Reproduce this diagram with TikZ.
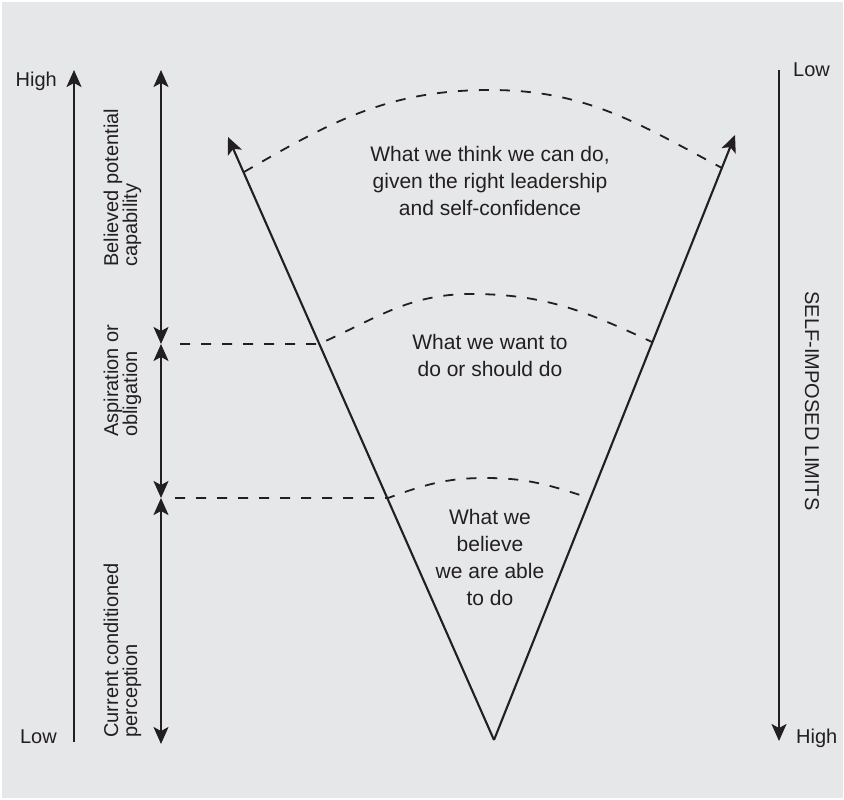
\documentclass[tikz,border=0pt]{standalone}
\usepackage{fontspec}
\setmainfont{Liberation Sans}
\usepackage{tikz}
\usetikzlibrary{arrows.meta,positioning}
\definecolor{panel}{HTML}{E6E7E8}
\definecolor{ink}{HTML}{231F20}
\tikzstyle{lbl} = [font=\fontsize{20}{22}\selectfont, text=ink, inner sep=0pt]
\tikzstyle{sidelbl} = [lbl, font=\fontsize{20}{19}\selectfont, rotate=90, align=left, anchor=base west]
\tikzstyle{vtext} = [font=\fontsize{21}{27}\selectfont, text=ink, align=center,
inner sep=0pt, anchor=base]
\tikzstyle{arrow} = [line width=2.1pt, draw=ink, -{Stealth[length=17pt,width=15pt,inset=4pt]}]
\tikzstyle{twoway} = [line width=2.1pt, draw=ink,
{Stealth[length=17pt,width=15pt,inset=4pt]}-{Stealth[length=17pt,width=15pt,inset=4pt]}]
\tikzstyle{dashy} = [line width=1.8pt, draw=ink, dash pattern=on 10pt off 11pt]

\begin{document}
\begin{tikzpicture}[x=1pt,y=-1pt]
        \fill[panel] (2,2) rectangle (843,798);
        \useasboundingbox (0,0) rectangle (844,800);
        % left scale
        \coordinate (lowL) at (74,742);
        \coordinate (highL) at (74,70);
        \draw [arrow] (lowL) -- (highL);
        \node (highLtxt) [lbl, anchor=base east] at (57,87) {High};
        \node (lowLtxt) [lbl, anchor=base east] at (57,743) {Low};
        % bands
        \coordinate (bandtop) at (161,70);
        \coordinate (split1) at (161,344);
        \coordinate (split2) at (161,498);
        \coordinate (bandbot) at (161,744);
        \draw [twoway] (split1) -- (bandtop);
        \draw [twoway] (split2) -- (split1);
        \draw [twoway] (split2) -- (bandbot);
        \node (believed) [sidelbl] at (137,267) {Believed potential\\capability};
        \node (aspire) [sidelbl] at (137,437) {Aspiration or\\obligation};
        \node (current) [sidelbl] at (137,738) {Current conditioned\\perception};
        %
        \coordinate (apex) at (494,740);
        \coordinate (tipL) at (228,137);
        \coordinate (tipR) at (735,135);
        \draw [arrow] (apex) -- (tipL);
        \draw [arrow] (apex) -- (tipR);
        % dashed levels
        \coordinate (topL) at (244,172);
        \coordinate (topM) at (490,90);
        \coordinate (topR) at (722,168);
        \draw [dashy] (topL) to[out=30,in=180] (topM) to[out=0,in=152] (topR);
        \coordinate (midS) at (180,344);
        \coordinate (midL) at (319,344);
        \coordinate (midM) at (471,294);
        \coordinate (midR) at (652,342);
        \draw [dashy] (midS) -- (midL) to[out=24,in=180] (midM) to[out=0,in=155] (midR);
        \coordinate (lowS) at (175,498);
        \coordinate (lowLft) at (388,498);
        \coordinate (lowM) at (485,478);
        \coordinate (lowRgt) at (580,495);
        \draw [dashy] (lowS) -- (lowLft) to[out=20,in=180] (lowM) to[out=0,in=162] (lowRgt);
        % texts in the V
        \node (think) [vtext] at (490,215) {What we think we can do,\\given the right leadership\\and self-confidence};
        \node (want) [vtext] at (490,376) {What we want to\\do or should do};
        \node (able) [vtext] at (490,605) {What we\\believe\\we are able\\to do};
        % right scale
        \coordinate (lowR) at (779,70);
        \coordinate (highR) at (779,741);
        \draw [arrow] (lowR) -- (highR);
        \node (lowRtxt) [lbl, anchor=base west] at (793,77) {Low};
        \node (highRtxt) [lbl, anchor=base west] at (796,743) {High};
        \node (limits) [lbl, rotate=-90] at (812,401) {SELF-IMPOSED LIMITS};
\end{tikzpicture}
\end{document}
